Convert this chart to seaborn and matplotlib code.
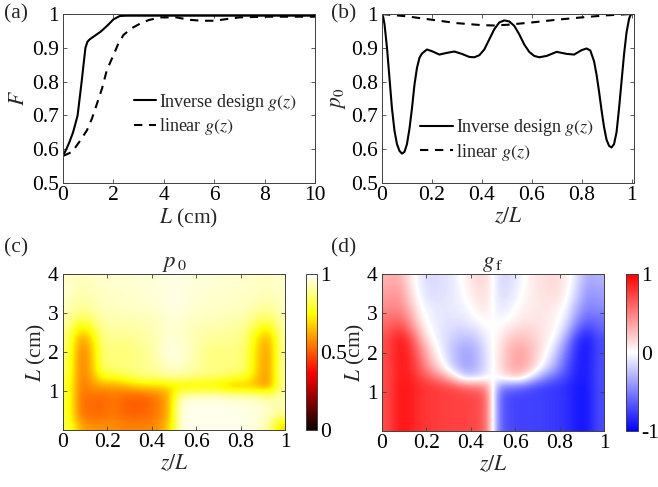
import numpy as np
import pandas as pd
import matplotlib
matplotlib.use("Agg")
import matplotlib.pyplot as plt
import seaborn as sns
from matplotlib.lines import Line2D

# ---------------- data ----------------
# (a) fidelity F vs length L
L_inv = [0, 0.13, 0.25, 0.4, 0.58, 0.74, 0.89, 0.97, 1.06, 1.25, 1.5, 1.75, 2.0, 2.25, 2.5, 3, 4, 5, 6, 7, 8, 9, 10]
F_inv = [0.58, 0.60, 0.62, 0.65, 0.70, 0.80, 0.90, 0.918, 0.925, 0.935, 0.948, 0.965, 0.984, 0.994, 0.995, 0.995,
         0.995, 0.995, 0.995, 0.995, 0.995, 0.995, 0.995]
L_lin = [0, 0.36, 0.69, 0.95, 1.15, 1.35, 1.55, 1.74, 2.0, 2.2, 2.4, 2.73, 3.07, 3.4, 3.86, 4.5, 5, 5.5, 6, 6.5, 7, 8, 9, 10]
F_lin = [0.58, 0.592, 0.626, 0.656, 0.691, 0.735, 0.78, 0.834, 0.878, 0.913, 0.938, 0.958, 0.972, 0.982, 0.99, 0.99,
         0.983, 0.98, 0.98, 0.985, 0.99, 0.992, 0.992, 0.992]

# (b) p0 vs z/L
z_inv = [0, 0.005, 0.01, 0.02, 0.03, 0.04, 0.05, 0.06, 0.07, 0.08, 0.09, 0.10, 0.11, 0.12, 0.13, 0.14, 0.15,
         0.16, 0.18, 0.20, 0.23, 0.26, 0.29, 0.32, 0.35, 0.37, 0.39, 0.41, 0.43, 0.45, 0.47, 0.49, 0.51, 0.53,
         0.55, 0.57, 0.59, 0.61, 0.63, 0.66, 0.70, 0.74, 0.77, 0.80, 0.82, 0.835, 0.85, 0.86, 0.87, 0.88, 0.89,
         0.90, 0.91, 0.92, 0.93, 0.94, 0.95, 0.96, 0.97, 0.98, 0.99, 0.995, 1.0]
p_inv = [1.0, 0.99, 0.97, 0.90, 0.81, 0.72, 0.655, 0.615, 0.595, 0.587, 0.592, 0.615, 0.66, 0.72, 0.79, 0.84, 0.87,
         0.883, 0.895, 0.89, 0.88, 0.885, 0.889, 0.882, 0.873, 0.872, 0.878, 0.895, 0.925, 0.955, 0.975, 0.981, 0.978,
         0.965, 0.94, 0.91, 0.888, 0.876, 0.872, 0.876, 0.888, 0.882, 0.88, 0.893, 0.898, 0.892, 0.86, 0.82, 0.77,
         0.715, 0.665, 0.628, 0.61, 0.605, 0.615, 0.65, 0.72, 0.80, 0.88, 0.945, 0.985, 0.995, 1.0]
z_lin = [0, 0.1, 0.2, 0.3, 0.4, 0.45, 0.5, 0.6, 0.7, 0.8, 0.9, 1.0]
p_lin = [1.0, 0.993, 0.983, 0.973, 0.967, 0.966, 0.968, 0.975, 0.983, 0.99, 0.996, 1.0]

# (c) p0 map: rows L = 0.125 ... 3.875 (step 0.25), columns z/L = 0.025 ... 0.975 (step 0.05)
p0_map = [
    [0.82, 0.62, 0.58, 0.58, 0.58, 0.56, 0.56, 0.56, 0.58, 0.66, 0.97, 0.98, 0.98, 0.98, 0.98, 0.98, 0.97, 0.96, 0.90, 0.68],
    [0.80, 0.54, 0.53, 0.52, 0.55, 0.52, 0.51, 0.52, 0.55, 0.62, 0.97, 0.98, 0.98, 0.98, 0.98, 0.98, 0.97, 0.96, 0.94, 0.88],
    [0.80, 0.53, 0.53, 0.51, 0.55, 0.51, 0.50, 0.51, 0.55, 0.62, 0.97, 0.98, 0.98, 0.98, 0.98, 0.97, 0.97, 0.96, 0.94, 0.92],
    [0.80, 0.53, 0.54, 0.52, 0.55, 0.52, 0.51, 0.52, 0.55, 0.62, 0.92, 0.94, 0.95, 0.95, 0.94, 0.94, 0.93, 0.92, 0.88, 0.92],
    [0.80, 0.54, 0.58, 0.60, 0.60, 0.62, 0.66, 0.68, 0.68, 0.70, 0.70, 0.70, 0.70, 0.70, 0.68, 0.62, 0.64, 0.62, 0.58, 0.88],
    [0.82, 0.54, 0.60, 0.78, 0.78, 0.82, 0.86, 0.88, 0.88, 0.91, 0.91, 0.89, 0.88, 0.86, 0.84, 0.82, 0.80, 0.64, 0.58, 0.90],
    [0.84, 0.54, 0.62, 0.85, 0.87, 0.87, 0.88, 0.89, 0.91, 0.95, 0.94, 0.92, 0.89, 0.88, 0.88, 0.88, 0.84, 0.66, 0.58, 0.90],
    [0.84, 0.54, 0.62, 0.86, 0.87, 0.86, 0.87, 0.89, 0.92, 0.97, 0.96, 0.93, 0.89, 0.87, 0.87, 0.87, 0.84, 0.66, 0.58, 0.90],
    [0.85, 0.56, 0.64, 0.87, 0.87, 0.87, 0.88, 0.90, 0.93, 0.97, 0.96, 0.93, 0.90, 0.88, 0.88, 0.88, 0.85, 0.67, 0.59, 0.90],
    [0.86, 0.60, 0.68, 0.88, 0.89, 0.89, 0.90, 0.91, 0.93, 0.96, 0.95, 0.93, 0.91, 0.90, 0.90, 0.89, 0.86, 0.70, 0.62, 0.90],
    [0.89, 0.72, 0.78, 0.90, 0.91, 0.91, 0.91, 0.92, 0.93, 0.95, 0.95, 0.93, 0.92, 0.92, 0.91, 0.91, 0.88, 0.78, 0.74, 0.91],
    [0.91, 0.83, 0.86, 0.92, 0.92, 0.92, 0.93, 0.93, 0.94, 0.96, 0.96, 0.94, 0.94, 0.93, 0.93, 0.92, 0.91, 0.86, 0.84, 0.92],
    [0.93, 0.89, 0.91, 0.93, 0.94, 0.94, 0.94, 0.95, 0.95, 0.97, 0.97, 0.95, 0.95, 0.94, 0.94, 0.94, 0.93, 0.91, 0.89, 0.94],
    [0.94, 0.91, 0.92, 0.94, 0.94, 0.95, 0.95, 0.95, 0.96, 0.97, 0.97, 0.96, 0.95, 0.95, 0.95, 0.94, 0.94, 0.93, 0.92, 0.94],
    [0.95, 0.92, 0.93, 0.94, 0.95, 0.95, 0.95, 0.96, 0.96, 0.97, 0.97, 0.96, 0.96, 0.95, 0.95, 0.95, 0.94, 0.94, 0.93, 0.95],
    [0.95, 0.93, 0.94, 0.95, 0.95, 0.95, 0.96, 0.96, 0.96, 0.97, 0.97, 0.96, 0.96, 0.96, 0.95, 0.95, 0.95, 0.94, 0.94, 0.95],
]

# (d) g_f map, same grid
gf_map = [
    [0.70, 0.92, 0.90, 0.80, 0.78, 0.75, 0.74, 0.74, 0.72, 0.60, -0.60, -0.72, -0.74, -0.74, -0.75, -0.78, -0.80, -0.90, -0.92, -0.70],
    [0.70, 0.92, 0.90, 0.80, 0.78, 0.75, 0.74, 0.74, 0.72, 0.60, -0.60, -0.72, -0.74, -0.74, -0.75, -0.78, -0.80, -0.90, -0.92, -0.70],
    [0.70, 0.92, 0.90, 0.80, 0.78, 0.75, 0.74, 0.74, 0.72, 0.60, -0.60, -0.72, -0.74, -0.74, -0.75, -0.78, -0.80, -0.90, -0.92, -0.70],
    [0.70, 0.92, 0.90, 0.80, 0.78, 0.75, 0.74, 0.74, 0.72, 0.60, -0.60, -0.72, -0.74, -0.74, -0.75, -0.78, -0.80, -0.90, -0.92, -0.70],
    [0.70, 0.92, 0.90, 0.82, 0.78, 0.75, 0.70, 0.60, 0.55, 0.45, -0.45, -0.55, -0.60, -0.70, -0.75, -0.78, -0.82, -0.90, -0.92, -0.70],
    [0.70, 0.90, 0.88, 0.72, 0.58, 0.40, 0.10, -0.22, -0.18, -0.05, 0.05, 0.18, 0.22, -0.10, -0.40, -0.58, -0.72, -0.88, -0.90, -0.70],
    [0.70, 0.90, 0.86, 0.62, 0.32, 0.05, -0.22, -0.36, -0.30, -0.10, 0.10, 0.30, 0.36, 0.22, -0.05, -0.32, -0.62, -0.86, -0.90, -0.70],
    [0.70, 0.92, 0.85, 0.55, 0.20, -0.05, -0.25, -0.38, -0.30, -0.10, 0.10, 0.30, 0.38, 0.25, 0.05, -0.20, -0.55, -0.85, -0.92, -0.70],
    [0.70, 0.92, 0.82, 0.45, 0.10, -0.10, -0.25, -0.35, -0.28, -0.08, 0.08, 0.28, 0.35, 0.25, 0.10, -0.10, -0.45, -0.82, -0.92, -0.70],
    [0.70, 0.90, 0.75, 0.30, 0.00, -0.10, -0.20, -0.25, -0.20, -0.05, 0.05, 0.20, 0.25, 0.20, 0.10, 0.00, -0.30, -0.75, -0.90, -0.70],
    [0.60, 0.75, 0.55, 0.15, -0.05, -0.10, -0.15, -0.15, -0.10, 0.00, 0.00, 0.10, 0.15, 0.15, 0.10, 0.05, -0.15, -0.55, -0.75, -0.60],
    [0.55, 0.60, 0.40, 0.05, -0.05, -0.10, -0.10, -0.08, 0.00, 0.05, -0.05, 0.00, 0.08, 0.10, 0.10, 0.05, -0.05, -0.40, -0.60, -0.55],
    [0.45, 0.50, 0.30, 0.00, -0.08, -0.10, -0.08, -0.05, 0.05, 0.10, -0.10, -0.05, 0.05, 0.08, 0.10, 0.08, 0.00, -0.30, -0.50, -0.45],
    [0.40, 0.45, 0.20, -0.05, -0.12, -0.10, -0.08, 0.00, 0.10, 0.12, -0.12, -0.10, 0.00, 0.08, 0.10, 0.12, 0.05, -0.20, -0.45, -0.40],
    [0.35, 0.40, 0.15, -0.08, -0.15, -0.12, -0.08, 0.02, 0.12, 0.15, -0.15, -0.12, -0.02, 0.08, 0.12, 0.15, 0.08, -0.15, -0.40, -0.35],
    [0.30, 0.35, 0.10, -0.10, -0.15, -0.12, -0.08, 0.05, 0.15, 0.15, -0.15, -0.15, -0.05, 0.08, 0.12, 0.15, 0.10, -0.10, -0.35, -0.30],
]

legend_labels = ["Inverse design $g(z)$", "linear $g(z)$"]

# ---------------- style ----------------
sns.set_theme(style="white")
plt.rcParams["font.family"] = ["Liberation Serif", "DejaVu Serif"]
plt.rcParams["mathtext.fontset"] = "stix"
plt.rcParams.update({
    "xtick.direction": "in", "ytick.direction": "in",
    "xtick.top": True, "ytick.right": True,
    "xtick.bottom": True, "ytick.left": True,
    "xtick.major.size": 3, "ytick.major.size": 3,
    "xtick.major.width": 0.6, "ytick.major.width": 0.6,
    "axes.linewidth": 0.7, "axes.edgecolor": "#404040",
    "xtick.color": "#404040", "ytick.color": "#404040",
    "xtick.labelcolor": "black", "ytick.labelcolor": "black",
    "xtick.major.pad": 2.5, "ytick.major.pad": 3,
})
FS = 15.5
W, H = 658, 487
fig = plt.figure(figsize=(W / 100, H / 100), dpi=100)


def box(l, t, r, b):
    return [l / W, 1 - b / H, (r - l) / W, (b - t) / H]


axA = fig.add_axes(box(63, 14, 315, 183))
axB = fig.add_axes(box(382, 14, 634, 183))
axC = fig.add_axes(box(63, 274, 285, 430))
caxC = fig.add_axes(box(306, 274, 317, 430))
axD = fig.add_axes(box(382, 274, 604, 431))
caxD = fig.add_axes(box(626, 274, 638, 431))

dash = (0, (4, 3.2))

# (a)
sns.lineplot(x=L_inv, y=F_inv, ax=axA, color="black", lw=1.5, sort=False)
sns.lineplot(x=L_lin, y=F_lin, ax=axA, color="black", lw=1.5, linestyle=dash, sort=False)
axA.set_xlim(0, 10)
axA.set_ylim(0.5, 1.0)
axA.set_xticks([0, 2, 4, 6, 8, 10])
axA.set_xticklabels(["0", "2", "4", "6", "8", "10"], fontsize=FS)
axA.set_yticks([0.5, 0.6, 0.7, 0.8, 0.9, 1.0])
axA.set_yticklabels(["0.5", "0.6", "0.7", "0.8", "0.9", "1"], fontsize=FS)
axA.set_xlabel("$L$ (cm)", fontsize=FS, labelpad=1)
axA.set_ylabel("$F$", fontsize=FS, labelpad=2)

# (b)
sns.lineplot(x=z_inv, y=p_inv, ax=axB, color="black", lw=1.5, sort=False)
sns.lineplot(x=z_lin, y=p_lin, ax=axB, color="black", lw=1.5, linestyle=dash, sort=False)
axB.set_xlim(0, 1.01)
axB.set_ylim(0.5, 1.0)
axB.set_xticks([0, 0.2, 0.4, 0.6, 0.8, 1.0])
axB.set_xticklabels(["0", "0.2", "0.4", "0.6", "0.8", "1"], fontsize=FS)
axB.set_yticks([0.5, 0.6, 0.7, 0.8, 0.9, 1.0])
axB.set_yticklabels(["0.5", "0.6", "0.7", "0.8", "0.9", "1"], fontsize=FS)
axB.set_xlabel("$z/L$", fontsize=FS, labelpad=1)
axB.set_ylabel("$p_0$", fontsize=FS, labelpad=2)

for ax, hl, anchor in [(axA, 1.25, (0.28, 0.54)), (axB, 1.85, (0.15, 0.39))]:
    handles = [Line2D([], [], color="black", lw=1.5),
               Line2D([], [], color="black", lw=1.5, linestyle=dash)]
    ax.legend(handles, legend_labels, loc="upper left", bbox_to_anchor=anchor,
              frameon=False, fontsize=13, handlelength=hl, handletextpad=0.15,
              labelspacing=0.2, borderpad=0, borderaxespad=0)

# (c)
imC = axC.imshow(np.array(p0_map), cmap="hot", vmin=0, vmax=1, origin="lower",
                 extent=[0, 1, 0, 4], aspect="auto", interpolation="bicubic")
axC.set_xlim(0, 1)
axC.set_ylim(0, 4)
cbC = fig.colorbar(imC, cax=caxC)
cbC.set_ticks([0, 0.5, 1])
cbC.set_ticklabels(["0", "0.5", "1"], fontsize=FS)

# (d)
imD = axD.imshow(np.array(gf_map), cmap="bwr", vmin=-1, vmax=1, origin="lower",
                 extent=[0, 1, 0, 4], aspect="auto", interpolation="bicubic")
axD.set_xlim(0, 1)
axD.set_ylim(0, 4)
cbD = fig.colorbar(imD, cax=caxD)
cbD.set_ticks([-1, 0, 1])
cbD.set_ticklabels(["-1", "0", "1"], fontsize=FS)

for cb in (cbC, cbD):
    cb.outline.set_linewidth(0.7)
    cb.outline.set_edgecolor("#404040")
    cb.ax.tick_params(direction="in", length=0, pad=2)

for ax, title in [(axC, r"$p_{\,0}$"), (axD, r"$g_{\,\mathrm{f}}$")]:
    ax.set_xticks([0, 0.2, 0.4, 0.6, 0.8, 1.0])
    ax.set_xticklabels(["0", "0.2", "0.4", "0.6", "0.8", "1"], fontsize=FS)
    ax.set_yticks([1, 2, 3, 4])
    ax.set_yticklabels(["1", "2", "3", "4"], fontsize=FS)
    ax.set_xlabel("$z/L$", fontsize=FS, labelpad=1)
    ax.set_ylabel("$L$ (cm)", fontsize=FS, labelpad=0)
    ax.set_title(title, fontsize=FS + 1, pad=5)

for x, y, lab in [(4, 14, "(a)"), (331, 14, "(b)"), (4, 248, "(c)"), (331, 248, "(d)")]:
    fig.text(x / W, 1 - y / H, lab, fontsize=FS, ha="left", va="center")

fig.savefig("out.png", dpi=100)
